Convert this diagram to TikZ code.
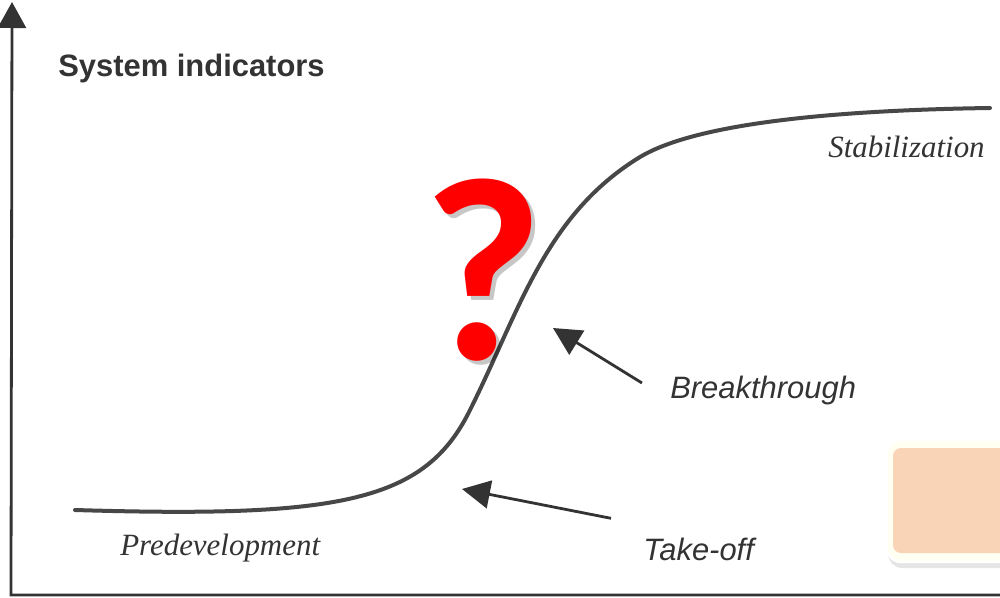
\documentclass[tikz,border=0pt]{standalone}
\usepackage{fontspec}
\setmainfont{Liberation Serif}
\setsansfont{Liberation Sans}
\newfontfamily\qmarkfont{Carlito}
\usetikzlibrary{arrows.meta, shadows}

\definecolor{ink}{HTML}{333333}
\definecolor{peach}{HTML}{FAD4B6}
\definecolor{cream}{HTML}{FFFFF2}

\begin{document}
\begin{tikzpicture}[x=0.25mm, y=-0.25mm,
		axis/.style={line width=0.7mm, ink, line join=miter, {Triangle[length=6.5mm,width=7mm]}-},
		pointer/.style={line width=0.7mm, ink, -{Triangle[length=7mm,width=7mm]}},
		scurve/.style={line width=1mm, ink!90, line cap=round},
		phase/.style={font=\fontsize{22}{26}\selectfont\itshape, text=ink, inner sep=0pt},
		marker/.style={font=\fontsize{22}{26}\selectfont\sffamily\itshape, text=ink, inner sep=0pt},
		qmark/.style={font=\qmarkfont\bfseries\fontsize{186}{186}\selectfont, inner sep=0pt}]
				\clip (0,0) rectangle (1000,598);
				\fill[white] (0,0) rectangle (1000,598);
				
				% Axes
				\coordinate (ytip) at (12,2);
				\coordinate (origin) at (11,595);
				\coordinate (xend) at (1000,595);
				\draw[axis] (ytip) -- (origin) -- (xend);
				
				% Nodes
				\node (ylabel) [anchor=base west, inner sep=0pt, text=ink, font=\fontsize{22}{26}\selectfont\sffamily\bfseries] at (58,76) {System indicators};
				\node (stab) [phase, anchor=base west] at (828,157) {Stabilization};
				\node (pre) [phase, anchor=base west] at (120,555) {Predevelopment};
				\node (brk) [marker, anchor=base west] at (670,398) {Breakthrough};
				\node (tko) [marker, anchor=base west] at (643,560) {Take-off};
				
				% S-curve
				\draw[scurve] (75,510) .. controls (340,518) and (425,502) .. (470,410)
					.. controls (520,310) and (545,215) .. (640,157)
					.. controls (700,121) and (850,110) .. (990,108);
				
				% Arrows
				\coordinate (brktip) at (553,328);
				\coordinate (tkotip) at (462,489);
				\draw[pointer] ([shift={(-28,-7)}]brk.west) -- (brktip);
				\draw[pointer] ([shift={(-32,-19)}]tko.north west) -- (tkotip);
				
				% Question mark
				\node (qshade) [qmark, text=black, opacity=0.22, anchor=base] at (487,363) {?};
				\node (qsign) [qmark, text=red, anchor=base] at (483,359) {?};
				
				% Empty box
				\draw[fill=cream, draw=white, line width=0.6mm, rounded corners=3.5mm,
					drop shadow={shadow xshift=0.3mm, shadow yshift=-1.5mm, opacity=0.2}] (887,440) rectangle (1015,562);
				\fill[peach, rounded corners=2mm] (893,448) rectangle (1015,553);
			\end{tikzpicture}
\end{document}
